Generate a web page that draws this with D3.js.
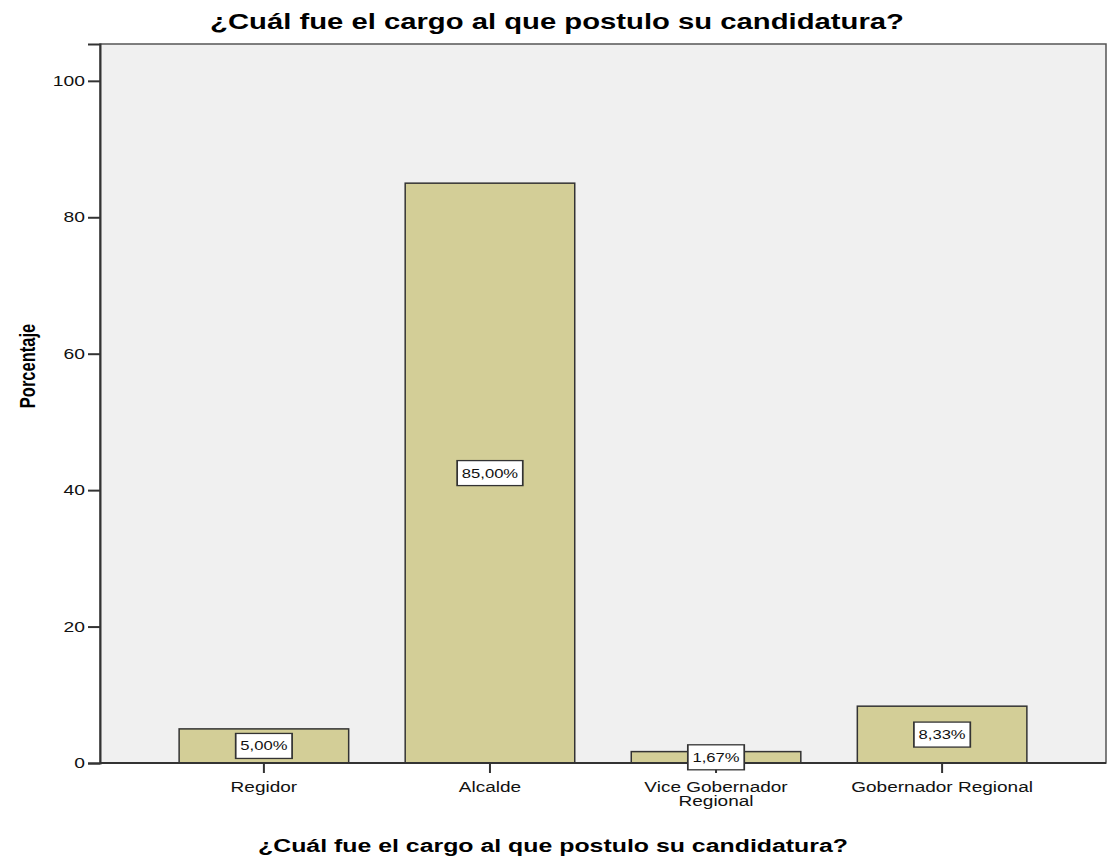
<!DOCTYPE html>
<html>
<head>
<meta charset="utf-8">
<script src="https://cdn.jsdelivr.net/npm/d3@7"></script>
<style>
  html, body { margin: 0; padding: 0; background: #fff; }
  text { font-family: "Liberation Sans", Arial, sans-serif; }
</style>
</head>
<body>
<svg id="chart" width="1108" height="865"></svg>
<script>
const categories = ["Regidor", "Alcalde", "Vice Gobernador Regional", "Gobernador Regional"];
const tickLabelLines = [["Regidor"], ["Alcalde"], ["Vice Gobernador", "Regional"], ["Gobernador Regional"]];
const percentages = [5.00, 85.00, 1.67, 8.33];
const valueLabels = ["5,00%", "85,00%", "1,67%", "8,33%"];
const yTicks = [0, 20, 40, 60, 80, 100];
const titleText = "¿Cuál fue el cargo al que postulo su candidatura?";
const xTitle = "¿Cuál fue el cargo al que postulo su candidatura?";
const yTitle = "Porcentaje";

(function () {
const SX = 1.33; // the reference image is stretched horizontally
const svg = d3.select("#chart");
const pLeft = 100, pRight = 1106, pTop = 44, pBottom = 763;

const x = d3.scaleBand().domain(categories).range([pLeft, pRight]).paddingInner(0.25).paddingOuter(0.35);
const y = d3.scaleLinear().domain([0, 105.4]).range([pBottom, pTop]);

svg.append("rect").attr("x", 0).attr("y", 0).attr("width", 1108).attr("height", 865).attr("fill", "#fff");

// plot background
svg.append("rect").attr("x", pLeft).attr("y", pTop).attr("width", pRight - pLeft).attr("height", pBottom - pTop)
  .attr("fill", "#f0f0f0").attr("stroke", "#555").attr("stroke-width", 1.5);

const data = categories.map((c, i) => ({ c, v: percentages[i], lab: valueLabels[i], lines: tickLabelLines[i] }));

// bars
svg.append("g").selectAll("rect").data(data).join("rect")
  .attr("x", d => x(d.c)).attr("y", d => y(d.v))
  .attr("width", x.bandwidth()).attr("height", d => y(0) - y(d.v))
  .attr("fill", "#d3ce97").attr("stroke", "#333").attr("stroke-width", 1.5);

// y axis
const yAxis = d3.axisLeft(y).tickValues(yTicks).tickSize(12).tickPadding(3).tickFormat(d3.format("d"));
const gy = svg.append("g").attr("transform", `translate(${pLeft},0)`).call(yAxis);
gy.select(".domain").attr("stroke", "#333").attr("stroke-width", 2);
gy.selectAll(".tick line").attr("stroke", "#333").attr("stroke-width", 2);
gy.selectAll(".tick text").attr("font-size", 14.5).attr("fill", "#111")
  .attr("font-family", "Liberation Sans, Arial, sans-serif")
  .attr("x", -15 / SX).attr("transform", `scale(${SX},1)`);

// x axis
const xAxis = d3.axisBottom(x).tickSize(10).tickFormat("");
const gx = svg.append("g").attr("transform", `translate(0,${pBottom})`).call(xAxis);
gx.select(".domain").attr("stroke", "#333").attr("stroke-width", 2).attr("d", `M${pLeft},0H${pRight}`);
gx.selectAll(".tick line").attr("stroke", "#333").attr("stroke-width", 2);
gx.selectAll(".tick").each(function(d, i) {
  const t = d3.select(this).append("text").attr("fill", "#111").attr("font-size", 14.3)
    .attr("font-family", "Liberation Sans, Arial, sans-serif")
    .attr("transform", `scale(${SX},1)`)
    .attr("text-anchor", "middle").attr("y", 29);
  data[i].lines.forEach((ln, k) => {
    t.append("tspan").attr("x", 0).attr("dy", k === 0 ? 0 : 14).text(ln);
  });
});

// value labels
const lg = svg.append("g").selectAll("g").data(data).join("g")
  .attr("transform", d => `translate(${x(d.c) + x.bandwidth() / 2},${y(d.v / 2)}) scale(${SX},1)`);
lg.append("text").attr("text-anchor", "middle").attr("dy", "0.36em").attr("font-size", 12.5).attr("fill", "#111")
  .text(d => d.lab);
lg.each(function() {
  const g = d3.select(this);
  const bb = g.select("text").node().getBBox();
  g.insert("rect", "text").attr("x", bb.x - 3.5).attr("y", -12.5).attr("width", bb.width + 7).attr("height", 25)
    .attr("fill", "#fff").attr("stroke", "#333").attr("stroke-width", 1.3);
});

// titles
svg.append("g").attr("transform", `translate(557,29) scale(${SX},1)`)
  .append("text").attr("text-anchor", "middle")
  .attr("font-size", 22).attr("font-weight", "bold").attr("fill", "#000").text(titleText);
svg.append("g").attr("transform", `translate(553,852) scale(${SX},1)`)
  .append("text").attr("text-anchor", "middle")
  .attr("font-size", 18.7).attr("font-weight", "bold").attr("fill", "#000").text(xTitle);
svg.append("g").attr("transform", `translate(35,366) scale(${SX},1) rotate(-90)`)
  .append("text").attr("text-anchor", "middle")
  .attr("font-size", 16.5).attr("font-weight", "bold").attr("fill", "#000").text(yTitle);
})();
</script>
</body>
</html>
